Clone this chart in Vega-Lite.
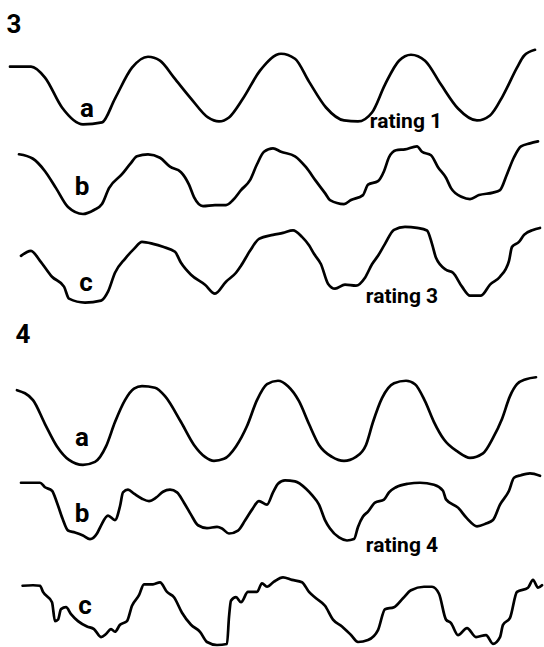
{
  "$schema": "https://vega.github.io/schema/vega-lite/v6.json",
  "width": 544,
  "height": 647,
  "autosize": {"type": "fit", "contains": "padding"},
  "padding": 0,
  "background": "white",
  "config": {"view": {"stroke": null}},
  "datasets": {
    "curves": [
      {"s":"3a","x":10,"y":67},{"s":"3a","x":31,"y":67},{"s":"3a","x":45,"y":78},{"s":"3a","x":62,"y":108},{"s":"3a","x":83,"y":125},{"s":"3a","x":102,"y":123},{"s":"3a","x":115,"y":99},{"s":"3a","x":132,"y":68},{"s":"3a","x":148,"y":57},{"s":"3a","x":160,"y":61},{"s":"3a","x":174,"y":78},{"s":"3a","x":191,"y":99},{"s":"3a","x":208,"y":118},{"s":"3a","x":219,"y":122},{"s":"3a","x":229,"y":118},{"s":"3a","x":243,"y":99},{"s":"3a","x":260,"y":71},{"s":"3a","x":281,"y":54},{"s":"3a","x":295,"y":59},{"s":"3a","x":309,"y":82},{"s":"3a","x":326,"y":108},{"s":"3a","x":344,"y":121},{"s":"3a","x":358,"y":122},{"s":"3a","x":372,"y":113},{"s":"3a","x":385,"y":85},{"s":"3a","x":399,"y":61},{"s":"3a","x":411,"y":55},{"s":"3a","x":425,"y":61},{"s":"3a","x":441,"y":85},{"s":"3a","x":458,"y":109},{"s":"3a","x":477,"y":121},{"s":"3a","x":490,"y":116},{"s":"3a","x":503,"y":96},{"s":"3a","x":517,"y":68},{"s":"3a","x":524,"y":56},{"s":"3a","x":535,"y":50},
      {"s":"3b","x":19,"y":155},{"s":"3b","x":33,"y":159.5},{"s":"3b","x":45,"y":172},{"s":"3b","x":56,"y":189},{"s":"3b","x":68,"y":208},{"s":"3b","x":83,"y":215},{"s":"3b","x":94,"y":211},{"s":"3b","x":102,"y":205},{"s":"3b","x":109,"y":189},{"s":"3b","x":122,"y":175},{"s":"3b","x":130,"y":165},{"s":"3b","x":137,"y":157},{"s":"3b","x":148,"y":155},{"s":"3b","x":160,"y":158.5},{"s":"3b","x":170,"y":167.5},{"s":"3b","x":181,"y":173},{"s":"3b","x":189,"y":185.5},{"s":"3b","x":194,"y":198},{"s":"3b","x":203,"y":207},{"s":"3b","x":215,"y":206},{"s":"3b","x":226,"y":206},{"s":"3b","x":233,"y":201},{"s":"3b","x":241,"y":191},{"s":"3b","x":250,"y":181},{"s":"3b","x":257,"y":165},{"s":"3b","x":264,"y":152.5},{"s":"3b","x":273,"y":149},{"s":"3b","x":281,"y":152.5},{"s":"3b","x":295,"y":157},{"s":"3b","x":306,"y":168},{"s":"3b","x":316,"y":182},{"s":"3b","x":325,"y":194},{"s":"3b","x":330,"y":201},{"s":"3b","x":344,"y":205},{"s":"3b","x":351,"y":201},{"s":"3b","x":363,"y":196},{"s":"3b","x":368,"y":185.5},{"s":"3b","x":378,"y":182},{"s":"3b","x":384,"y":172},{"s":"3b","x":389,"y":158},{"s":"3b","x":396,"y":151},{"s":"3b","x":405,"y":150},{"s":"3b","x":417,"y":147},{"s":"3b","x":422,"y":152.5},{"s":"3b","x":431,"y":156},{"s":"3b","x":438,"y":168},{"s":"3b","x":446,"y":178.6},{"s":"3b","x":451,"y":189},{"s":"3b","x":462,"y":198},{"s":"3b","x":470,"y":200},{"s":"3b","x":479,"y":196},{"s":"3b","x":493,"y":193.5},{"s":"3b","x":500,"y":191},{"s":"3b","x":507,"y":175},{"s":"3b","x":514,"y":158},{"s":"3b","x":521,"y":147},{"s":"3b","x":530,"y":144},{"s":"3b","x":538,"y":142},
      {"s":"3c","x":21,"y":257},{"s":"3c","x":31,"y":252},{"s":"3c","x":40,"y":262},{"s":"3c","x":52,"y":278},{"s":"3c","x":64,"y":288},{"s":"3c","x":69,"y":300},{"s":"3c","x":85,"y":304},{"s":"3c","x":101,"y":302},{"s":"3c","x":108,"y":293},{"s":"3c","x":115,"y":274},{"s":"3c","x":125,"y":260},{"s":"3c","x":134,"y":250},{"s":"3c","x":142,"y":243},{"s":"3c","x":153,"y":245},{"s":"3c","x":163,"y":248},{"s":"3c","x":175,"y":253},{"s":"3c","x":181,"y":264},{"s":"3c","x":191,"y":276},{"s":"3c","x":205,"y":286},{"s":"3c","x":215,"y":295},{"s":"3c","x":226,"y":283},{"s":"3c","x":236,"y":274},{"s":"3c","x":241,"y":267},{"s":"3c","x":250,"y":252},{"s":"3c","x":259,"y":240},{"s":"3c","x":273,"y":236},{"s":"3c","x":283,"y":234},{"s":"3c","x":293,"y":231.5},{"s":"3c","x":302,"y":238},{"s":"3c","x":309,"y":246.5},{"s":"3c","x":314,"y":255},{"s":"3c","x":321,"y":265.5},{"s":"3c","x":328,"y":285},{"s":"3c","x":335,"y":290},{"s":"3c","x":345,"y":286},{"s":"3c","x":356,"y":287},{"s":"3c","x":365,"y":279},{"s":"3c","x":372,"y":265.5},{"s":"3c","x":378,"y":257},{"s":"3c","x":385,"y":245},{"s":"3c","x":394,"y":231},{"s":"3c","x":405,"y":228},{"s":"3c","x":417,"y":229},{"s":"3c","x":427,"y":231.5},{"s":"3c","x":432,"y":245},{"s":"3c","x":436,"y":259},{"s":"3c","x":446,"y":271},{"s":"3c","x":453,"y":274},{"s":"3c","x":462,"y":288},{"s":"3c","x":470,"y":297},{"s":"3c","x":481,"y":297},{"s":"3c","x":490,"y":286},{"s":"3c","x":500,"y":278},{"s":"3c","x":509,"y":262},{"s":"3c","x":512,"y":248},{"s":"3c","x":519,"y":243},{"s":"3c","x":524,"y":236},{"s":"3c","x":533,"y":231},{"s":"3c","x":540,"y":229},
      {"s":"4a","x":17,"y":392},{"s":"4a","x":33,"y":402},{"s":"4a","x":45,"y":426},{"s":"4a","x":57,"y":448.5},{"s":"4a","x":69,"y":462},{"s":"4a","x":83,"y":467},{"s":"4a","x":95,"y":464},{"s":"4a","x":106,"y":448.5},{"s":"4a","x":115,"y":424},{"s":"4a","x":125,"y":402},{"s":"4a","x":134,"y":390.5},{"s":"4a","x":142,"y":388},{"s":"4a","x":155,"y":389.5},{"s":"4a","x":165,"y":398},{"s":"4a","x":181,"y":424},{"s":"4a","x":194,"y":447},{"s":"4a","x":205,"y":459},{"s":"4a","x":214,"y":463},{"s":"4a","x":224,"y":461},{"s":"4a","x":236,"y":448.5},{"s":"4a","x":247,"y":428},{"s":"4a","x":257,"y":402},{"s":"4a","x":267,"y":386},{"s":"4a","x":278,"y":382.5},{"s":"4a","x":288,"y":388},{"s":"4a","x":299,"y":403},{"s":"4a","x":309,"y":426},{"s":"4a","x":319,"y":447},{"s":"4a","x":332,"y":459},{"s":"4a","x":344,"y":463},{"s":"4a","x":356,"y":459},{"s":"4a","x":366,"y":447},{"s":"4a","x":373,"y":424},{"s":"4a","x":382,"y":400},{"s":"4a","x":394,"y":385},{"s":"4a","x":406,"y":382.5},{"s":"4a","x":415,"y":386},{"s":"4a","x":425,"y":403},{"s":"4a","x":434,"y":424},{"s":"4a","x":444,"y":441.6},{"s":"4a","x":458,"y":454},{"s":"4a","x":470,"y":460},{"s":"4a","x":483,"y":455.5},{"s":"4a","x":493,"y":440},{"s":"4a","x":502,"y":421},{"s":"4a","x":510,"y":398},{"s":"4a","x":517,"y":386},{"s":"4a","x":526,"y":381},{"s":"4a","x":536,"y":379},
      {"s":"4b","x":21,"y":485},{"s":"4b","x":40,"y":485},{"s":"4b","x":45,"y":489.5},{"s":"4b","x":52,"y":493},{"s":"4b","x":57,"y":505},{"s":"4b","x":62.5,"y":521},{"s":"4b","x":68,"y":533},{"s":"4b","x":75,"y":535},{"s":"4b","x":83,"y":538},{"s":"4b","x":90,"y":541.6},{"s":"4b","x":97,"y":536},{"s":"4b","x":101,"y":528},{"s":"4b","x":108,"y":518},{"s":"4b","x":115,"y":522.5},{"s":"4b","x":120,"y":508.6},{"s":"4b","x":123,"y":494.7},{"s":"4b","x":128,"y":492},{"s":"4b","x":134,"y":496},{"s":"4b","x":142,"y":501},{"s":"4b","x":149,"y":503.4},{"s":"4b","x":156,"y":500},{"s":"4b","x":163,"y":494},{"s":"4b","x":170,"y":492},{"s":"4b","x":177,"y":494.7},{"s":"4b","x":184,"y":505},{"s":"4b","x":191,"y":517},{"s":"4b","x":198,"y":527.7},{"s":"4b","x":207,"y":530.5},{"s":"4b","x":217,"y":529.4},{"s":"4b","x":222,"y":531},{"s":"4b","x":229,"y":536},{"s":"4b","x":238,"y":533},{"s":"4b","x":245,"y":523},{"s":"4b","x":252,"y":512},{"s":"4b","x":259,"y":503.4},{"s":"4b","x":267,"y":507},{"s":"4b","x":273,"y":494.7},{"s":"4b","x":278,"y":486},{"s":"4b","x":285,"y":482.6},{"s":"4b","x":295,"y":483.6},{"s":"4b","x":306,"y":491},{"s":"4b","x":312.5,"y":498},{"s":"4b","x":319,"y":507},{"s":"4b","x":325,"y":522.5},{"s":"4b","x":330,"y":531},{"s":"4b","x":339,"y":540},{"s":"4b","x":347,"y":543},{"s":"4b","x":354,"y":541.6},{"s":"4b","x":358,"y":529.4},{"s":"4b","x":363,"y":519},{"s":"4b","x":368,"y":514},{"s":"4b","x":375,"y":505},{"s":"4b","x":384,"y":502},{"s":"4b","x":389,"y":494.7},{"s":"4b","x":396,"y":489.5},{"s":"4b","x":408,"y":486},{"s":"4b","x":420,"y":485},{"s":"4b","x":434,"y":487},{"s":"4b","x":443,"y":493},{"s":"4b","x":446,"y":501.7},{"s":"4b","x":458,"y":510},{"s":"4b","x":467,"y":520.8},{"s":"4b","x":477,"y":528.75},{"s":"4b","x":486,"y":526},{"s":"4b","x":493,"y":522.5},{"s":"4b","x":500,"y":507},{"s":"4b","x":509,"y":493},{"s":"4b","x":514,"y":480},{"s":"4b","x":521,"y":477.4},{"s":"4b","x":530,"y":475.6},{"s":"4b","x":540,"y":478},
      {"s":"4c","x":22.6,"y":588.5},{"s":"4c","x":33,"y":588},{"s":"4c","x":40,"y":588.5},{"s":"4c","x":43,"y":594.7},{"s":"4c","x":52,"y":605},{"s":"4c","x":55,"y":624},{"s":"4c","x":58,"y":622.5},{"s":"4c","x":61,"y":612},{"s":"4c","x":66,"y":610},{"s":"4c","x":71,"y":617},{"s":"4c","x":78,"y":624},{"s":"4c","x":87,"y":629.4},{"s":"4c","x":94,"y":632},{"s":"4c","x":101,"y":640},{"s":"4c","x":106,"y":637},{"s":"4c","x":111,"y":632},{"s":"4c","x":115,"y":634.7},{"s":"4c","x":120,"y":627.7},{"s":"4c","x":127,"y":624},{"s":"4c","x":132,"y":608.6},{"s":"4c","x":139,"y":598},{"s":"4c","x":144,"y":587},{"s":"4c","x":153,"y":587},{"s":"4c","x":160,"y":585},{"s":"4c","x":167,"y":594.7},{"s":"4c","x":174,"y":600},{"s":"4c","x":182,"y":615.6},{"s":"4c","x":191,"y":627.7},{"s":"4c","x":200,"y":634.7},{"s":"4c","x":207,"y":645},{"s":"4c","x":217,"y":648},{"s":"4c","x":227,"y":647},{"s":"4c","x":229,"y":620},{"s":"4c","x":231,"y":603.4},{"s":"4c","x":236,"y":600},{"s":"4c","x":241,"y":605},{"s":"4c","x":248,"y":594.7},{"s":"4c","x":257,"y":594.7},{"s":"4c","x":262,"y":586},{"s":"4c","x":267,"y":589.5},{"s":"4c","x":274,"y":584.3},{"s":"4c","x":283,"y":580},{"s":"4c","x":292,"y":582.6},{"s":"4c","x":302,"y":585},{"s":"4c","x":309,"y":594.7},{"s":"4c","x":316,"y":601},{"s":"4c","x":325,"y":608.6},{"s":"4c","x":333,"y":622.5},{"s":"4c","x":342,"y":629.4},{"s":"4c","x":351,"y":638},{"s":"4c","x":358,"y":645},{"s":"4c","x":368,"y":643},{"s":"4c","x":378,"y":633},{"s":"4c","x":385,"y":612},{"s":"4c","x":394,"y":610},{"s":"4c","x":403,"y":601},{"s":"4c","x":411,"y":593},{"s":"4c","x":424,"y":589.5},{"s":"4c","x":432,"y":589.5},{"s":"4c","x":439,"y":596.5},{"s":"4c","x":446,"y":622.5},{"s":"4c","x":451,"y":626},{"s":"4c","x":458,"y":638},{"s":"4c","x":467,"y":631},{"s":"4c","x":476,"y":640},{"s":"4c","x":486,"y":638},{"s":"4c","x":493,"y":646.8},{"s":"4c","x":500,"y":640},{"s":"4c","x":503,"y":627.7},{"s":"4c","x":510,"y":620.8},{"s":"4c","x":517,"y":594.7},{"s":"4c","x":528,"y":590.5},{"s":"4c","x":533,"y":582.6},{"s":"4c","x":538,"y":590.5},{"s":"4c","x":542,"y":588}
    ],
    "labels": [
      {"t":"3","x":14,"y":33},
      {"t":"4","x":23,"y":345},
      {"t":"a","x":87,"y":118},
      {"t":"rating 1","x":406,"y":129},
      {"t":"b","x":82,"y":196},
      {"t":"c","x":86,"y":292},
      {"t":"rating 3","x":402,"y":304},
      {"t":"a","x":82,"y":448},
      {"t":"b","x":82,"y":524},
      {"t":"rating 4","x":402,"y":555},
      {"t":"c","x":85,"y":617}
    ]
  },
  "layer": [
    {
      "data": {"name": "curves"},
      "mark": {"type": "line", "color": "black", "strokeWidth": 2.7, "interpolate": "monotone", "strokeJoin": "round", "strokeCap": "round"},
      "encoding": {
        "x": {"field": "x", "type": "quantitative", "scale": {"domain": [0, 544]}, "axis": null},
        "y": {"field": "y", "type": "quantitative", "scale": {"domain": [0, 647], "reverse": true}, "axis": null},
        "detail": {"field": "s"}
      }
    },
    {
      "data": {"name": "labels"},
      "transform": [{"filter": "length(datum.t) == 1"}],
      "mark": {"type": "text", "color": "black", "font": "Roboto, sans-serif", "fontWeight": "bold", "fontSize": 26, "align": "center", "baseline": "alphabetic"},
      "encoding": {
        "x": {"field": "x", "type": "quantitative", "scale": {"domain": [0, 544]}},
        "y": {"field": "y", "type": "quantitative", "scale": {"domain": [0, 647], "reverse": true}},
        "text": {"field": "t"}
      }
    },
    {
      "data": {"name": "labels"},
      "transform": [{"filter": "length(datum.t) > 1"}],
      "mark": {"type": "text", "color": "black", "font": "Roboto, sans-serif", "fontWeight": "bold", "fontSize": 21, "align": "center", "baseline": "alphabetic"},
      "encoding": {
        "x": {"field": "x", "type": "quantitative", "scale": {"domain": [0, 544]}},
        "y": {"field": "y", "type": "quantitative", "scale": {"domain": [0, 647], "reverse": true}},
        "text": {"field": "t"}
      }
    }
  ]
}
